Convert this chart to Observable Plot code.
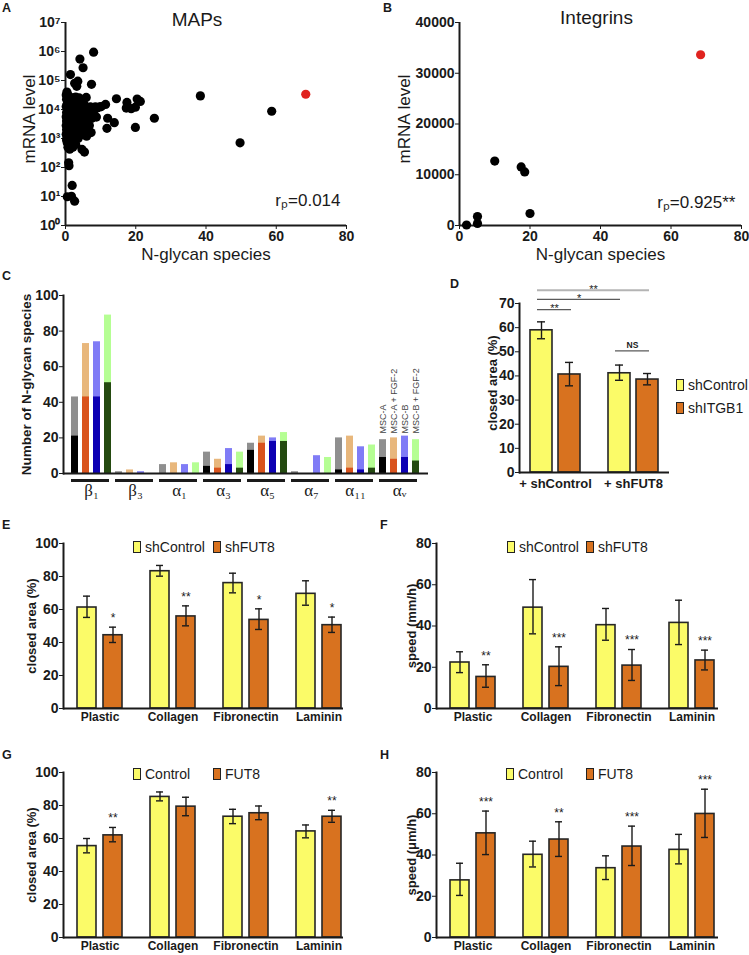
<!DOCTYPE html>
<html><head><meta charset="utf-8">
<script src="https://cdn.jsdelivr.net/npm/d3@7"></script>
<script src="https://cdn.jsdelivr.net/npm/@observablehq/plot@0.6"></script>
<style>
body{margin:0;background:#fff;}
#fig{position:relative;width:749px;height:955px;overflow:hidden;font-family:"Liberation Sans",Arial,Helvetica,sans-serif;color:#1a1a1a;background:#fff;}
.panel{position:absolute;}
.plbl{position:absolute;font-weight:bold;font-size:12.5px;line-height:12px;}
.leg{position:absolute;font-size:14px;height:18px;line-height:18px;display:flex;align-items:center;white-space:nowrap;}
.sw{display:inline-block;width:6px;height:10px;border:1.6px solid #222;margin-right:4px;}
</style></head><body><div id="fig"></div>
<script>
// ---------------- DATA ----------------
// Panel A: MAPs — [N-glycan species, mRNA level]
const mapsPoints = [
  [8.0,950000],[4.1,550000],[5.0,275000],[1.4,160000],[3.5,95000],[2.6,80000],[3.2,63000],[7.4,74000],
  [0.5,35000],[5.9,26000],[2.9,27000],[14.5,23500],[38.4,29500],[17.5,17500],[20.4,23000],[21.3,19000],
  [18.7,10700],[19.9,12000],[17.3,11200],[11.4,15000],[9.7,12300],[8.5,12300],[7.1,12300],[58.7,8700],
  [25.3,5000],[12.0,5000],[13.9,3500],[8.8,5500],[11.8,2250],[19.9,2400],[7.3,1600],[6.0,1200],
  [49.7,710],[2.9,620],[4.7,420],[5.4,340],[1.2,430],[0.9,145],[1.0,115],[1.9,24],[0.5,9.8],[1.7,10.2],[2.6,6.9],
  [0.2,31600],[0.3,22400],[0.5,15800],[0.2,12600],[0.6,10000],[0.3,7900],[0.8,7100],[0.2,5600],[0.5,5000],
  [1.0,4500],[0.3,4000],[0.7,3550],[0.2,2800],[1.1,3200],[0.5,2500],[0.9,2240],[0.3,2000],[1.3,2500],
  [0.6,1780],[0.2,1410],[1.0,1580],[0.4,1120],[0.8,1000],[0.3,890],[1.2,800],[0.5,710],[0.9,560],
  [1.5,1260],[1.7,2000],[1.9,3160],[1.6,5000],[2.0,7900],[1.8,12600],[2.2,4000],[2.4,6300],[2.6,2800],
  [2.3,1580],[2.8,1120],[3.0,3550],[3.2,5600],[2.9,10000],[3.5,2240],[3.7,4000],[3.3,15800],[4.0,3160],
  [4.2,7100],[3.8,11200],[4.5,2000],[4.8,4500],[5.0,8900],[4.4,20000],[5.3,3160],[5.6,6300],[6.0,4000],
  [6.4,10000],[5.8,12600],[6.8,2800],[7.0,7100],[1.4,20000],[1.1,28000],[2.6,25000],[0.4,40000],[1.8,890],
  [2.1,500],[3.6,1000],[4.9,1410],[6.5,2000],[7.5,5000],[8.0,8900],[9.0,11200],[10.2,12600],[1.3,630],
  [0.7,500],[2.5,1000],[3.4,1410],[4.1,1260],[5.5,1780],[2.7,14100],[3.9,25000],[5.2,15800]
];
const mapsHighlight = [[68.4,33600]];
const mapsYTicks = [1,10,100,1000,10000,100000,1000000,10000000];
const xTicksAB = [0,20,40,60,80];

// Panel B: Integrins
const integrinPoints = [[2.0,100],[5.1,400],[5.1,1770],[10.0,12700],[17.5,11550],[18.5,10560],[20.0,2360]];
const integrinHighlight = [[68.4,33650]];
const integrinYTicks = [0,10000,20000,30000,40000];

// Panel C
const cGroups = ["β₁","β₃","α₁","α₃","α₅","α₇","α₁₁","αᵥ"];
const cSeries = ["MSC-A","MSC-A + FGF-2","MSC-B","MSC-B + FGF-2"];
const cTotal = [[43,73,74,89],[1,2,1,0],[5,6,5,6],[12,8,14,12],[17,21,20,23],[1,0,10,9],[20,21,15,16],[19,20,21,19]];
const cCore  = [[21,43,43,51],[0,0,0,0],[0,0,0,0],[4,3,5,3],[13,17,18,18],[0,0,0,0],[2,3,2,3],[9,8,9,7]];
const cYTicks = [0,20,40,60,80,100];

// Panel D
const dCats = ["+ shControl","+ shFUT8"];
const dSeries = ["shControl","shITGB1"];
const dMean = [[58.9,41.1],[40.6,38.5]];
const dLo   = [[55.4,38.2],[35.9,36.3]];
const dHi   = [[62.4,44.5],[45.6,41.0]];
const dSig = [
  {a:0,b:1,y:67.5,label:"**"},
  {a:0,b:2,y:71.7,label:"*"},
  {a:0,b:3,y:75.5,label:"**"},
  {a:2,b:3,y:50.4,label:"NS"}
];
const dYTicks = [0,10,20,30,40,50,60,70];

// Panels E–H
const categories = ["Plastic","Collagen","Fibronectin","Laminin"];
const eSeries = ["shControl","shFUT8"];
const eMean = [[61.2,83.2,76.0,69.5],[44.4,55.8,53.7,50.5]];
const eLo   = [[55.2,80.2,70.1,62.6],[40.0,50.1,47.9,46.1]];
const eHi   = [[68.1,86.7,82.0,77.4],[49.3,62.2,60.4,55.4]];
const eStars = ["*","**","*","*"];

const fSeries = ["shControl","shFUT8"];
const fMean = [[22.3,48.9,40.4,41.5],[15.3,20.2,20.8,23.3]];
const fLo   = [[17.4,36.2,33.1,31.0],[10.3,11.1,13.6,18.7]];
const fHi   = [[27.5,62.5,48.5,52.5],[21.2,29.9,28.6,28.3]];
const fStars = ["**","***","***","***"];

const gSeries = ["Control","FUT8"];
const gMean = [[55.4,85.2,73.2,64.3],[61.9,79.3,75.3,73.2]];
const gLo   = [[51.3,82.8,69.0,60.4],[58.0,73.8,71.4,69.8]];
const gHi   = [[60.0,88.2,77.7,68.2],[66.7,85.0,79.7,77.1]];
const gStars = ["**","","","**"];

const hSeries = ["Control","FUT8"];
const hMean = [[27.7,40.1,33.6,42.5],[50.5,47.5,44.1,59.9]];
const hLo   = [[20.4,34.2,28.1,35.7],[40.2,39.3,34.9,48.5]];
const hHi   = [[36.0,46.7,39.6,50.0],[61.3,56.1,54.0,71.9]];
const hStars = ["***","**","***","***"];

const pctTicks = [0,20,40,60,80,100];
const speedTicks = [0,20,40,60,80];

// ---------------- STYLE ----------------
const FONT = "'Liberation Sans', Arial, Helvetica, sans-serif";
const INK = "#1a1a1a";
const RED = "#e0231f";
const YELLOW = "#fbfb68";
const ORANGE = "#d8721f";
const BARSTROKE = "#262626";
const cLight = ["#8f8f8f","#e8b77c","#807cf6","#b5fe93"];
const cDark  = ["#000000","#d9531d","#0d00b3","#244a10"];
const TICKSIZE = 14;

const fig = document.getElementById("fig");
function baseStyle(){ return {fontFamily: FONT, fontSize: "13px", fontWeight: "bold", color: INK, background: "transparent", overflow: "visible"}; }
function place(node, left, top, w, h){
  const d = document.createElement("div"); d.className = "panel";
  Object.assign(d.style, {left: left+"px", top: top+"px", width: w+"px", height: h+"px"});
  d.appendChild(node); fig.appendChild(d);
}
function panelLabel(t, left, top){
  const d = document.createElement("div"); d.className = "plbl"; d.textContent = t;
  d.style.left = left+"px"; d.style.top = top+"px"; fig.appendChild(d);
}
function legendItem(left, cy, color, name){
  const d = document.createElement("div"); d.className = "leg";
  d.style.left = left+"px"; d.style.top = (cy-9)+"px";
  const s = document.createElement("span"); s.className = "sw"; s.style.background = color;
  d.appendChild(s); d.appendChild(document.createTextNode(name)); fig.appendChild(d);
}
const SUP = {"0":"⁰","1":"¹","2":"²","3":"³","4":"⁴","5":"⁵","6":"⁶","7":"⁷","8":"⁸","9":"⁹"};
const toSup = n => String(n).split("").map(c => SUP[c]).join("");
// rotated axis title centred on the frame
const yTitle = (label, dx, dy, opts) => Plot.text([label], {text: d => d, frameAnchor: "left", textAnchor: "middle", rotate: -90, dx, dy, ...opts});

// ---------------- PANEL A ----------------
const plotA = Plot.plot({
  width: 375, height: 270, marginLeft: 65, marginRight: 29, marginTop: 22, marginBottom: 45,
  style: baseStyle(),
  x: {domain: [0, 80]},
  y: {type: "log", domain: [1, 1e7]},
  marks: [
    Plot.axisX({ticks: xTicksAB, tickSize: 4, tickPadding: 2, label: null, fontSize: TICKSIZE}),
    Plot.axisY({ticks: mapsYTicks, tickSize: 4, tickPadding: 1, label: null, fontSize: TICKSIZE,
      tickFormat: d => "10" + toSup(Math.round(Math.log10(d)))}),
    Plot.ruleX([0], {stroke: INK, strokeWidth: 2}),
    Plot.ruleY([1], {stroke: INK, strokeWidth: 2}),
    Plot.dot(mapsPoints, {x: d => d[0], y: d => d[1], r: 4.6, fill: "#000"}),
    Plot.dot(mapsHighlight, {x: d => d[0], y: d => d[1], r: 4.6, fill: RED}),
    Plot.text(["MAPs"], {text: d => d, frameAnchor: "top", textAnchor: "middle", dx: -9, dy: -10, fontSize: 19, fontWeight: "normal"}),
    yTitle("mRNA level", -36, -5, {fontSize: 17, fontWeight: "normal"}),
    Plot.text(["N-glycan species"], {text: d => d, frameAnchor: "bottom", textAnchor: "middle", dy: 34, fontSize: 17, fontWeight: "normal"}),
    Plot.text(["rₚ=0.014"], {text: d => d, frameAnchor: "bottom-right", textAnchor: "end", dx: -6, dy: -20, fontSize: 17, fontWeight: "normal"})
  ]
});
place(plotA, 0, 0, 375, 270);

// ---------------- PANEL B ----------------
const plotB = Plot.plot({
  width: 374, height: 270, marginLeft: 84, marginRight: 8, marginTop: 22, marginBottom: 45,
  style: baseStyle(),
  x: {domain: [0, 80]},
  y: {domain: [0, 40000]},
  marks: [
    Plot.axisX({ticks: xTicksAB, tickSize: 4, tickPadding: 2, label: null, fontSize: TICKSIZE}),
    Plot.axisY({ticks: integrinYTicks, tickSize: 4, tickPadding: 1, label: null, fontSize: TICKSIZE, tickFormat: d => String(d)}),
    Plot.ruleX([0], {stroke: INK, strokeWidth: 2}),
    Plot.ruleY([0], {stroke: INK, strokeWidth: 2}),
    Plot.dot(integrinPoints, {x: d => d[0], y: d => d[1], r: 4.6, fill: "#000"}),
    Plot.dot(integrinHighlight, {x: d => d[0], y: d => d[1], r: 4.6, fill: RED}),
    Plot.text(["Integrins"], {text: d => d, frameAnchor: "top", textAnchor: "middle", dx: -4, dy: -12, fontSize: 19, fontWeight: "normal"}),
    yTitle("mRNA level", -55, -5, {fontSize: 17, fontWeight: "normal"}),
    Plot.text(["N-glycan species"], {text: d => d, frameAnchor: "bottom", textAnchor: "middle", dy: 34, fontSize: 17, fontWeight: "normal"}),
    Plot.text(["rₚ=0.925**"], {text: d => d, frameAnchor: "bottom-right", textAnchor: "end", dx: -6, dy: -18, fontSize: 17, fontWeight: "normal"})
  ]
});
place(plotB, 375, 0, 374, 270);

// ---------------- PANEL C ----------------
const cKey = (g, s) => g + "|" + s;
const cRows = cGroups.flatMap((g, i) => cSeries.map((s, j) => ({group: g, series: s, j, key: cKey(g, s), total: cTotal[i][j], core: cCore[i][j]})));
const lastGroup = cGroups[cGroups.length - 1];
const lastRows = cRows.filter(d => d.group === lastGroup);
const labelBase = d3.max(lastRows, d => d.total) + 1.5;
const plotC = Plot.plot({
  width: 430, height: 230, marginLeft: 63, marginRight: 2, marginTop: 25, marginBottom: 27,
  style: baseStyle(),
  x: {domain: cRows.map(d => d.key), paddingInner: 0.333, paddingOuter: 0.388, axis: null},
  y: {domain: [0, 100]},
  marks: [
    Plot.axisY({ticks: cYTicks, tickSize: 4, tickPadding: 1, label: null, fontSize: TICKSIZE}),
    Plot.barY(cRows, {x: "key", y: "total", fill: d => cLight[d.j]}),
    Plot.barY(cRows, {x: "key", y: "core", fill: d => cDark[d.j]}),
    Plot.frame({anchor: "left", stroke: INK, strokeWidth: 2}),
    Plot.ruleY([0], {stroke: INK, strokeWidth: 2}),
    Plot.ruleY(cGroups, {y: () => 0, x1: g => cKey(g, cSeries[0]), x2: g => cKey(g, cSeries[cSeries.length-1]), dy: 7, insetRight: 2, stroke: INK, strokeWidth: 3}),
    Plot.text(cGroups, {x: g => cKey(g, cSeries[1]), y: () => 0, text: d => d, dx: 5.6, dy: 17, fontFamily: "'Liberation Serif', 'DejaVu Serif', serif", fontSize: 17, fontWeight: "normal"}),
    Plot.text(lastRows, {x: "key", y: () => labelBase, text: "series", rotate: -90, textAnchor: "start", fontSize: 9, fontWeight: "normal", fill: "#444"}),
    yTitle("Number of N-glycan species", -37, 0, {fontSize: 13.5})
  ]
});
place(plotC, 0, 270, 430, 230);

// ---------------- GROUPED BAR PANELS ----------------
function groupedPanel(cfg){
  const rows = cfg.cats.flatMap((c, i) => cfg.series.map((s, j) => ({cat: c, series: s, j,
    mean: cfg.mean[j][i], lo: cfg.lo[j][i], hi: cfg.hi[j][i], star: cfg.stars ? (j === 1 ? cfg.stars[i] : "") : ""})));
  const r0 = rows.filter(d => d.j === 0), r1 = rows.filter(d => d.j === 1);
  const bw = cfg.bw, barW = cfg.barW, off = bw/2 - barW/2;
  return Plot.plot({
    width: cfg.width, height: cfg.height,
    marginLeft: cfg.ml, marginRight: cfg.mr, marginTop: cfg.mt, marginBottom: cfg.mb,
    style: baseStyle(),
    x: {domain: cfg.cats, paddingInner: cfg.pi, paddingOuter: cfg.po, align: cfg.align},
    y: {domain: [0, cfg.yMax]},
    marks: [
      Plot.axisX({tickSize: 0, tickPadding: cfg.catPad, label: null, fontSize: cfg.catSize || 12}),
      Plot.axisY({ticks: cfg.yTicks, tickSize: 4, tickPadding: 1, label: null, fontSize: TICKSIZE}),
      Plot.barY(r0, {x: "cat", y: "mean", fill: YELLOW, stroke: BARSTROKE, strokeWidth: 1.6, insetRight: bw - barW}),
      Plot.barY(r1, {x: "cat", y: "mean", fill: ORANGE, stroke: BARSTROKE, strokeWidth: 1.6, insetLeft: bw - barW}),
      Plot.ruleX(r0, {x: "cat", y1: "lo", y2: "hi", dx: -off, stroke: INK, strokeWidth: 1.4}),
      Plot.ruleX(r1, {x: "cat", y1: "lo", y2: "hi", dx: off, stroke: INK, strokeWidth: 1.4}),
      Plot.tickY(r0, {x: "cat", y: "lo", insetLeft: barW/2 - 4, insetRight: bw - barW/2 - 4, stroke: INK, strokeWidth: 1.4}),
      Plot.tickY(r0, {x: "cat", y: "hi", insetLeft: barW/2 - 4, insetRight: bw - barW/2 - 4, stroke: INK, strokeWidth: 1.4}),
      Plot.tickY(r1, {x: "cat", y: "lo", insetRight: barW/2 - 4, insetLeft: bw - barW/2 - 4, stroke: INK, strokeWidth: 1.4}),
      Plot.tickY(r1, {x: "cat", y: "hi", insetRight: barW/2 - 4, insetLeft: bw - barW/2 - 4, stroke: INK, strokeWidth: 1.4}),
      Plot.text(r1.filter(d => d.star), {x: "cat", y: "hi", text: "star", dx: off, dy: -9, fontSize: 12, fontWeight: "normal"}),
      Plot.ruleY([0], {stroke: INK, strokeWidth: 2}),
      Plot.frame({anchor: "left", stroke: INK, strokeWidth: 2}),
      yTitle(cfg.yLabel, cfg.yLabelDx, cfg.yLabelDy || 0, {fontSize: 13}),
      ...(cfg.extra || [])
    ]
  });
}

// Panel D significance annotations
const dStep = 78.25;
const insL = [7, 35], insR = [38, 9];
const dSigMarks = dSig.flatMap(s => {
  const ca = Math.floor(s.a / 2), cb = Math.floor(s.b / 2);
  const il = insL[s.a % 2], ir = insR[s.b % 2];
  const top = s === dSig[2];
  const dxText = (il - ir + dStep * (cb - ca)) / 2;
  return [
    Plot.ruleY([s], {y: "y", x1: () => dCats[ca], x2: () => dCats[cb], insetLeft: il, insetRight: ir,
      stroke: top ? "#b4b4b4" : "#5a5a5a", strokeWidth: top ? 2 : 1.3}),
    Plot.text([s], {x: () => dCats[ca], y: "y", text: "label", dx: dxText, dy: s.label === "NS" ? -6 : -1, fontSize: s.label === "NS" ? 8.5 : 11, fontWeight: s.label === "NS" ? "bold" : "normal"})
  ];
});

const plotD = groupedPanel({
  cats: dCats, series: dSeries, mean: dMean, lo: dLo, hi: dHi, stars: null,
  width: 349, height: 230, ml: 119, mr: 80, mt: 33, mb: 28,
  pi: 0.363, po: 0.14, align: 0.5, bw: 50, barW: 22, yMax: 70, yTicks: dYTicks,
  catPad: 6, catSize: 13, yLabel: "closed area (%)", yLabelDx: -27, yLabelDy: -5, extra: dSigMarks
});
place(plotD, 400, 270, 349, 230);

const plotE = groupedPanel({
  cats: categories, series: eSeries, mean: eMean, lo: eLo, hi: eHi, stars: eStars,
  width: 375, height: 230, ml: 63, mr: 32, mt: 43, mb: 22,
  pi: 0.378, po: 0.081, align: 0.917, bw: 46, barW: 20, yMax: 100, yTicks: pctTicks,
  catPad: 4, yLabel: "closed area (%)", yLabelDx: -32
});
place(plotE, 0, 500, 375, 230);

const plotF = groupedPanel({
  cats: categories, series: fSeries, mean: fMean, lo: fLo, hi: fHi, stars: fStars,
  width: 374, height: 230, ml: 61, mr: 31, mt: 43, mb: 22,
  pi: 0.378, po: 0.0946, align: 0.786, bw: 46, barW: 20, yMax: 80, yTicks: speedTicks,
  catPad: 4, yLabel: "speed (mm/h)", yLabelDx: -25
});
place(plotF, 375, 500, 374, 230);

const plotG = groupedPanel({
  cats: categories, series: gSeries, mean: gMean, lo: gLo, hi: gHi, stars: gStars,
  width: 375, height: 225, ml: 63, mr: 32, mt: 42, mb: 18,
  pi: 0.378, po: 0.081, align: 0.917, bw: 46, barW: 20, yMax: 100, yTicks: pctTicks,
  catPad: 4, yLabel: "closed area (%)", yLabelDx: -32
});
place(plotG, 0, 730, 375, 225);

const plotH = groupedPanel({
  cats: categories, series: hSeries, mean: hMean, lo: hLo, hi: hHi, stars: hStars,
  width: 374, height: 225, ml: 61, mr: 31, mt: 42, mb: 18,
  pi: 0.378, po: 0.0946, align: 0.786, bw: 46, barW: 20, yMax: 80, yTicks: speedTicks,
  catPad: 4, yLabel: "speed (μm/h)", yLabelDx: -25
});
place(plotH, 375, 730, 374, 225);

// ---------------- LEGENDS & PANEL LETTERS ----------------
legendItem(676, 385, YELLOW, dSeries[0]);
legendItem(676, 408, ORANGE, dSeries[1]);
legendItem(133, 547, YELLOW, eSeries[0]);
legendItem(213, 547, ORANGE, eSeries[1]);
legendItem(507, 547, YELLOW, fSeries[0]);
legendItem(586, 547, ORANGE, fSeries[1]);
legendItem(133, 774, YELLOW, gSeries[0]);
legendItem(213, 774, ORANGE, gSeries[1]);
legendItem(506, 774, YELLOW, hSeries[0]);
legendItem(586, 774, ORANGE, hSeries[1]);

panelLabel("A", 2, 2);
panelLabel("B", 383, 2);
panelLabel("C", 2, 270);
panelLabel("D", 450, 278);
panelLabel("E", 2, 519);
panelLabel("F", 380, 519);
panelLabel("G", 2, 749);
panelLabel("H", 380, 749);
</script></body></html>
